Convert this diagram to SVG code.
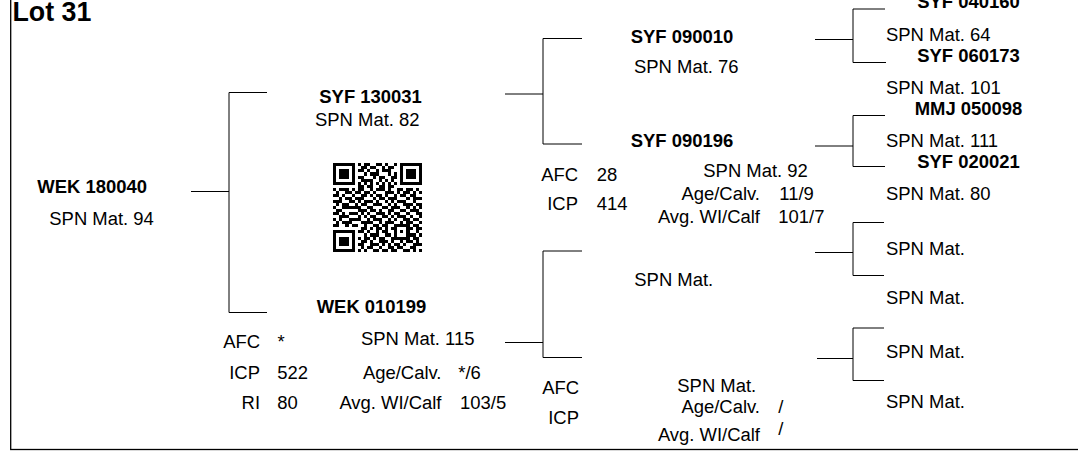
<svg xmlns="http://www.w3.org/2000/svg" width="1078" height="453" viewBox="0 0 1078 453">
<style>
text{font-family:"Liberation Sans",Arial,sans-serif;font-size:18.45px;fill:#000}
.b{font-weight:bold}
.r{text-anchor:end}
.c{text-anchor:middle}
.ln{stroke:#000;stroke-width:1;fill:none}
</style>
<rect x="10.7" y="-10" width="1080" height="459.5" fill="none" stroke="#000" stroke-width="1.3"/>
<g id="title"><text class="b" x="12.5" y="20.7" style="font-size:26.8px">Lot 31</text></g>
<g id="connectors" class="ln">
<path d="M191 191.5H229M229 92.5V312.5M229 92.5H267M229 312.5H267"/>
<path d="M505 94H543M543 38.5V144M543 38.5H582M543 144H582"/>
<path d="M505 342.5H543M543 251V357.5M543 251H582M543 357.5H582"/>
<path d="M815 39.5H853M853 9V62.5M853 9H885M853 62.5H886"/>
<path d="M815 146H853M853 115.5V166.5M853 115.5H885M853 166.5H885"/>
<path d="M815 252.5H853M853 222.5V275.5M853 222.5H884M853 275.5H884"/>
<path d="M817 358.5H853M853 328V380.5M853 328H884M853 380.5H884"/>
</g>
<g id="n-root">
<text class="b" x="37.3" y="193.3">WEK 180040</text>
<text x="49.3" y="224.7">SPN Mat. 94</text>
</g>
<g id="n-sire">
<text class="b" x="319.3" y="102.7">SYF 130031</text>
<text x="315" y="126.3">SPN Mat. 82</text>
</g>
<g id="qr" transform="translate(333.3 163.3) scale(3.05)">
<path stroke="#000" stroke-width="1" fill="none" shape-rendering="crispEdges" d="M0 .5h7M8 .5h1M10 .5h2M14 .5h2M17 .5h1M20 .5h1M22 .5h7M0 1.5h1M6 1.5h1M9 1.5h2M12 1.5h2M16 1.5h1M18 1.5h2M22 1.5h1M28 1.5h1M0 2.5h1M2 2.5h3M6 2.5h1M8 2.5h2M11 2.5h1M14 2.5h1M16 2.5h3M22 2.5h1M24 2.5h3M28 2.5h1M0 3.5h1M2 3.5h3M6 3.5h1M10 3.5h1M12 3.5h3M18 3.5h1M20 3.5h1M22 3.5h1M24 3.5h3M28 3.5h1M0 4.5h1M2 4.5h3M6 4.5h1M8 4.5h2M13 4.5h1M15 4.5h2M19 4.5h2M22 4.5h1M24 4.5h3M28 4.5h1M0 5.5h1M6 5.5h1M9 5.5h4M15 5.5h1M17 5.5h1M19 5.5h1M22 5.5h1M28 5.5h1M0 6.5h7M8 6.5h1M10 6.5h1M12 6.5h1M14 6.5h1M16 6.5h1M18 6.5h1M20 6.5h1M22 6.5h7M8 7.5h2M11 7.5h2M15 7.5h2M18 7.5h2M0 8.5h1M2 8.5h3M6 8.5h1M8 8.5h2M12 8.5h1M14 8.5h3M18 8.5h1M21 8.5h2M24 8.5h2M27 8.5h1M1 9.5h1M4 9.5h2M7 9.5h2M10 9.5h2M13 9.5h1M17 9.5h3M21 9.5h1M23 9.5h2M26 9.5h1M28 9.5h1M0 10.5h2M3 10.5h1M6 10.5h1M9 10.5h2M12 10.5h1M14 10.5h2M17 10.5h1M20 10.5h1M22 10.5h2M25 10.5h2M2 11.5h1M4 11.5h2M7 11.5h3M13 11.5h1M15 11.5h2M18 11.5h3M24 11.5h1M26 11.5h3M0 12.5h3M5 12.5h2M8 12.5h1M10 12.5h3M14 12.5h1M17 12.5h1M19 12.5h1M21 12.5h3M26 12.5h1M1 13.5h1M3 13.5h2M7 13.5h1M9 13.5h2M13 13.5h3M18 13.5h1M20 13.5h1M23 13.5h3M27 13.5h2M0 14.5h1M3 14.5h6M11 14.5h2M16 14.5h2M19 14.5h3M24 14.5h1M26 14.5h1M28 14.5h1M1 15.5h2M8 15.5h3M12 15.5h2M15 15.5h1M18 15.5h2M22 15.5h2M25 15.5h3M0 16.5h2M3 16.5h1M5 16.5h3M9 16.5h1M11 16.5h1M14 16.5h3M18 16.5h1M20 16.5h2M24 16.5h1M27 16.5h2M2 17.5h3M8 17.5h1M10 17.5h1M12 17.5h2M16 17.5h2M19 17.5h1M21 17.5h3M25 17.5h1M28 17.5h1M0 18.5h1M2 18.5h1M5 18.5h4M11 18.5h1M13 18.5h3M18 18.5h1M20 18.5h1M23 18.5h2M26 18.5h2M1 19.5h1M3 19.5h3M9 19.5h4M15 19.5h1M17 19.5h3M22 19.5h1M24 19.5h2M28 19.5h1M0 20.5h2M4 20.5h1M6 20.5h2M10 20.5h1M13 20.5h2M16 20.5h2M20 20.5h5M26 20.5h2M9 21.5h2M12 21.5h1M14 21.5h2M17 21.5h1M19 21.5h2M24 21.5h2M27 21.5h2M0 22.5h7M8 22.5h2M11 22.5h1M14 22.5h1M16 22.5h2M20 22.5h1M22 22.5h1M24 22.5h1M27 22.5h1M0 23.5h1M6 23.5h1M10 23.5h1M12 23.5h3M17 23.5h2M20 23.5h1M24 23.5h3M28 23.5h1M0 24.5h1M2 24.5h3M6 24.5h1M8 24.5h1M10 24.5h2M13 24.5h1M15 24.5h2M19 24.5h6M26 24.5h2M0 25.5h1M2 25.5h3M6 25.5h1M9 25.5h2M12 25.5h1M15 25.5h3M19 25.5h1M22 25.5h1M24 25.5h2M27 25.5h1M0 26.5h1M2 26.5h3M6 26.5h1M8 26.5h2M12 26.5h3M16 26.5h1M18 26.5h1M20 26.5h2M23 26.5h1M26 26.5h3M0 27.5h1M6 27.5h1M9 27.5h1M11 27.5h2M15 27.5h1M18 27.5h2M21 27.5h2M25 27.5h2M0 28.5h7M8 28.5h1M10 28.5h1M13 28.5h2M16 28.5h2M19 28.5h2M23 28.5h2M26 28.5h1M28 28.5h1"/>
</g>
<g id="n-dam">
<text class="b" x="316.7" y="313.3">WEK 010199</text>
<text class="r" x="260" y="348.3">AFC</text>
<text x="277.5" y="348.3">*</text>
<text x="361" y="345">SPN Mat. 115</text>
<text class="r" x="260" y="379.3">ICP</text>
<text x="277.3" y="379.3">522</text>
<text class="r" x="441.5" y="379.3">Age/Calv.</text>
<text x="458.3" y="379.3">*/6</text>
<text class="r" x="260" y="409.3">RI</text>
<text x="277.3" y="409.3">80</text>
<text class="r" x="441.5" y="409.3">Avg. WI/Calf</text>
<text x="460" y="409.3">103/5</text>
</g>
<g id="n-ss">
<text class="b" x="630.7" y="42.7">SYF 090010</text>
<text x="634" y="72.7">SPN Mat. 76</text>
</g>
<g id="n-sd">
<text class="b" x="630.7" y="147.3">SYF 090196</text>
<text class="r" x="578" y="181">AFC</text>
<text x="596.7" y="181">28</text>
<text class="r" x="578" y="210">ICP</text>
<text x="596.7" y="210">414</text>
<text x="703.3" y="176.7">SPN Mat. 92</text>
<text class="r" x="760" y="200">Age/Calv.</text>
<text x="779.3" y="200">11/9</text>
<text class="r" x="760" y="222.7">Avg. WI/Calf</text>
<text x="778.3" y="222.7">101/7</text>
</g>
<g id="n-ds">
<text x="634.3" y="285.7">SPN Mat.</text>
</g>
<g id="n-dd">
<text class="r" x="579" y="394">AFC</text>
<text class="r" x="579" y="424">ICP</text>
<text x="677.3" y="391.7">SPN Mat.</text>
<text class="r" x="760" y="412.7">Age/Calv.</text>
<text x="778.3" y="412.7">/</text>
<text class="r" x="760" y="440.7">Avg. WI/Calf</text>
<text x="778.3" y="435">/</text>
</g>
<g id="n-sss">
<text class="b c" x="968.5" y="8.3">SYF 040160</text>
<text x="886" y="40.7">SPN Mat. 64</text>
</g>
<g id="n-ssd">
<text class="b c" x="968.5" y="61.7">SYF 060173</text>
<text x="886" y="94">SPN Mat. 101</text>
</g>
<g id="n-sds">
<text class="b c" x="968.5" y="115">MMJ 050098</text>
<text x="886" y="146.7">SPN Mat. 111</text>
</g>
<g id="n-sdd">
<text class="b c" x="968.5" y="168.3">SYF 020021</text>
<text x="886" y="200">SPN Mat. 80</text>
</g>
<g id="n-dss"><text x="886" y="254.5">SPN Mat.</text></g>
<g id="n-dsd"><text x="886" y="304">SPN Mat.</text></g>
<g id="n-dds"><text x="886" y="358.3">SPN Mat.</text></g>
<g id="n-ddd"><text x="886" y="408.3">SPN Mat.</text></g>
</svg>
